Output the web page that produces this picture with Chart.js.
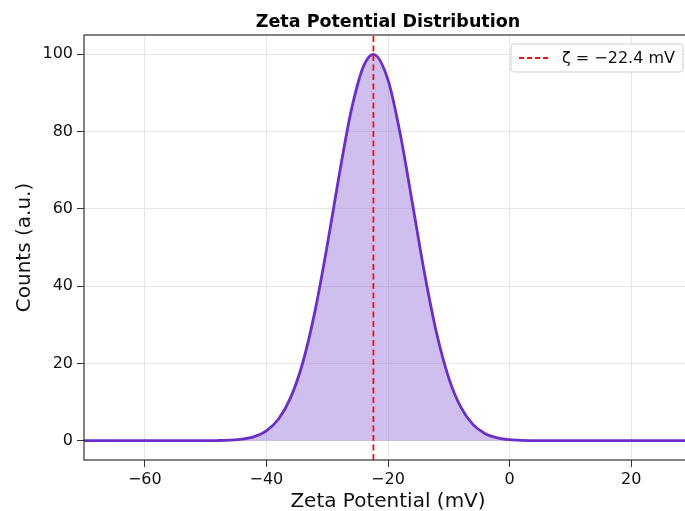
<!DOCTYPE html>
<html>
<head>
<meta charset="utf-8">
<script src="https://cdn.jsdelivr.net/npm/chart.js@4.4.1/dist/chart.umd.min.js"></script>
<style>
  html, body { margin: 0; padding: 0; background: #fff; overflow: hidden; }
  canvas { display: block; }
</style>
</head>
<body>
<canvas id="zetaChart" width="700" height="520"></canvas>
<script>
// zeta potential distribution (mV vs counts)
const zetaValues = [-70, -60, -50, -48, -46, -44, -42, -40, -38, -36, -34, -32, -30, -28, -26, -24, -22.4,
  -20, -18, -16, -14, -12, -10, -8, -6, -4, -2, 0, 2, 5, 10, 20, 30];
const counts = [0, 0, 0.01, 0.04, 0.14, 0.4, 1.06, 2.56, 5.6, 11.2, 20.3, 33.6, 50.5, 69.0, 85.8, 97.0, 100,
  93.4, 79.5, 61.6, 43.4, 27.8, 16.2, 8.6, 4.15, 1.82, 0.73, 0.26, 0.08, 0.01, 0, 0, 0];

const meanZeta = -22.4;
const yRange = [-5, 105];
const xTicks = [-60, -40, -20, 0, 20];
const yTicks = [0, 20, 40, 60, 80, 100];

const minus = v => String(v).replace('-', '\u2212');
const FONT = "'DejaVu Sans', sans-serif";

// four-sided frame like a matplotlib axes box
const frameBox = {
    id: 'frameBox',
    afterDatasetsDraw(chart) {
        const { ctx, chartArea: a } = chart;
        ctx.save();
        ctx.strokeStyle = '#333';
        ctx.lineWidth = 1.2;
        ctx.strokeRect(a.left, a.top, a.right - a.left, a.bottom - a.top);
        ctx.restore();
    }
};

// legend box in the upper right corner
const cornerLegend = {
    id: 'cornerLegend',
    afterDraw(chart) {
        const { ctx, chartArea: a } = chart;
        const text = '\u03b6 = ' + minus(meanZeta.toFixed(1)) + ' mV';
        ctx.save();
        ctx.font = "16px " + FONT;
        const w = ctx.measureText(text).width + 59;
        const h = 28;
        const x = a.right - 9 - w;
        const y = a.top + 9;
        ctx.beginPath();
        ctx.roundRect(x, y, w, h, 3);
        ctx.fillStyle = 'rgba(255,255,255,0.85)';
        ctx.fill();
        ctx.strokeStyle = '#d0d0d0';
        ctx.lineWidth = 1;
        ctx.stroke();
        ctx.strokeStyle = '#ee1111';
        ctx.lineWidth = 1.8;
        ctx.setLineDash([5, 3]);
        ctx.beginPath();
        ctx.moveTo(x + 8, y + h / 2);
        ctx.lineTo(x + 38, y + h / 2);
        ctx.stroke();
        ctx.setLineDash([]);
        ctx.fillStyle = '#111';
        ctx.textBaseline = 'middle';
        ctx.fillText(text, x + 51, y + h / 2 + 1);
        ctx.restore();
    }
};

const ctx = document.getElementById('zetaChart').getContext('2d');
const zetaChart = new Chart(ctx, {
    type: 'line',
    data: {
        datasets: [
            {
                label: 'Distribution',
                data: zetaValues.map((v, i) => ({ x: v, y: counts[i] })),
                borderColor: '#6a2fc6',
                backgroundColor: 'rgba(147, 112, 219, 0.45)',
                borderWidth: 2.8,
                fill: { value: 0 },
                pointRadius: 0,
                cubicInterpolationMode: 'monotone',
                order: 2
            },
            {
                label: 'mean',
                data: [{ x: meanZeta, y: yRange[0] }, { x: meanZeta, y: yRange[1] }],
                borderColor: '#ee1111',
                borderWidth: 1.8,
                borderDash: [6, 3.5],
                pointRadius: 0,
                fill: false,
                order: 1 // drawn on top of the curve
            }
        ]
    },
    options: {
        responsive: false,
        devicePixelRatio: 1,
        animation: false,
        layout: { padding: { left: 0, right: 8, top: 0, bottom: 0 } },
        scales: {
            x: {
                type: 'linear',
                min: -70,
                max: 30,
                afterBuildTicks: s => { s.ticks = xTicks.map(v => ({ value: v })); },
                afterFit: s => { s.height = 60; },
                grid: { color: '#e6e6e6', tickColor: '#333', tickLength: 7 },
                border: { display: false },
                ticks: { padding: 3, color: '#111', font: { family: FONT, size: 16 }, callback: v => minus(v) },
                title: { display: true, text: 'Zeta Potential (mV)', color: '#111', font: { family: FONT, size: 20 }, padding: { top: 0, bottom: 6 } }
            },
            y: {
                min: yRange[0],
                max: yRange[1],
                afterBuildTicks: s => { s.ticks = yTicks.map(v => ({ value: v })); },
                afterFit: s => { s.width = 84; },
                grid: { color: '#e6e6e6', tickColor: '#333', tickLength: 7 },
                border: { display: false },
                ticks: { padding: 4, color: '#111', font: { family: FONT, size: 16 } },
                title: { display: true, text: 'Counts (a.u.)', color: '#111', font: { family: FONT, size: 20 }, padding: { top: 13, bottom: 0 } }
            }
        },
        plugins: {
            legend: { display: false },
            tooltip: { enabled: false },
            title: {
                display: true,
                fullSize: false,
                text: 'Zeta Potential Distribution',
                color: '#000',
                font: { family: FONT, size: 17.5, weight: 'bold' },
                padding: { top: 12, bottom: 2 }
            }
        }
    },
    plugins: [frameBox, cornerLegend]
});
</script>
</body>
</html>
